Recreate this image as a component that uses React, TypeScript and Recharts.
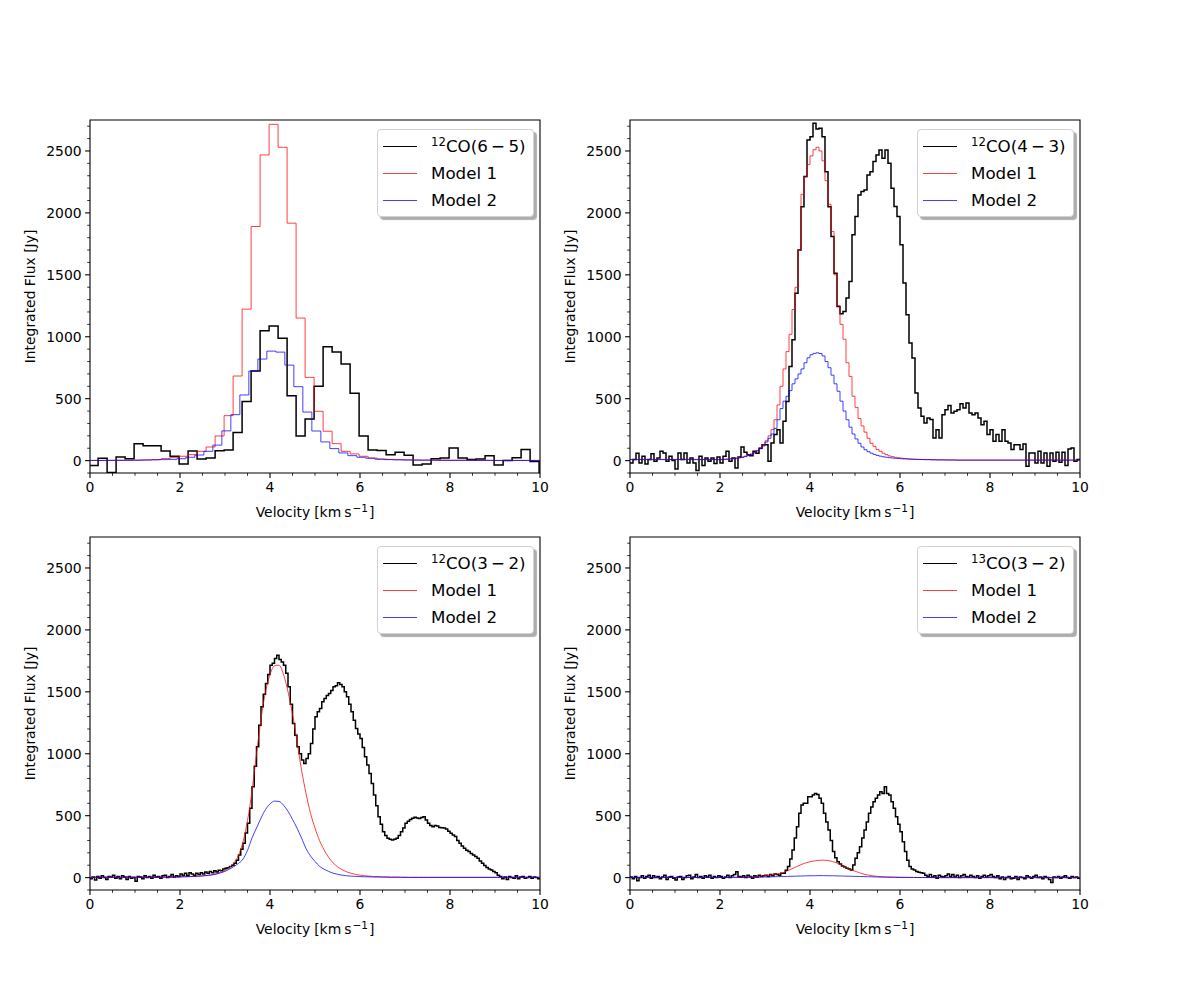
import { LineChart, Line, XAxis, YAxis, ReferenceArea } from "recharts";

const FONT = "'DejaVu Sans', sans-serif";

// axis limits and ticks
const V_MIN = 0;
const V_MAX = 10;
const F_MIN = -100;
const F_MAX = 2750;
const xMajor = [0, 2, 4, 6, 8, 10];
const xMinor = [0.5, 1, 1.5, 2.5, 3, 3.5, 4.5, 5, 5.5, 6.5, 7, 7.5, 8.5, 9, 9.5];
const yMajor = [0, 500, 1000, 1500, 2000, 2500];
const yMinor = [
  -100, 100, 200, 300, 400, 600, 700, 800, 900, 1100, 1200, 1300, 1400, 1600,
  1700, 1800, 1900, 2100, 2200, 2300, 2400, 2600, 2700,
];

// 12CO(6-5): 0.2 km/s channels
const co65Start = -0.02;
const co65Width = 0.2;
const co65Obs = [
  -40, 20, -95, 30, 16, 137, 121, 121, 78, 35,
  -27, 78, 13, 21, 80, 86, 226, 478, 723, 1048,
  1086, 987, 524, 199, 336, 600, 919, 876, 780, 543,
  199, 86, 81, 48, 67, 43, -35, -27, 16, 21,
  102, 21, 8, 13, 40, -35, 0, 24, 89, -8,
  -110,
];
const co65Mod1 = [
  1, 1, 2, 2, 3, 3, 5, 8, 16, 24,
  35, 48, 75, 110, 199, 363, 683, 1223, 1890, 2468,
  2715, 2530, 1917, 1151, 672, 398, 237, 137, 75, 54,
  35, 21, 13, 10, 8, 6, 5, 5, 4, 4,
  3, 3, 3, 2, 2, 2, 2, 2, 2, 2,
  2,
];
const co65Mod2Start = -0.07;
const co65Mod2 = [
  2, 2, 2, 3, 3, 4, 5, 6, 8, 10,
  15, 27, 45, 75, 125, 240, 371, 530, 723, 820,
  884, 876, 771, 597, 392, 239, 151, 97, 62, 40,
  27, 19, 11, 8, 6, 5, 4, 3, 3, 2,
  2, 2, 2, 2, 2, 1, 1, 1, 1, 1,
  1,
];

// 12CO(4-3): 1/15 km/s channels
const co43Start = 0;
const co43Width = 1 / 15;
const co43Obs = [
  -20, 8, 60, -20, 35, -27, 8, 56, -5, 21,
  75, 62, -5, 35, 0, -67, 62, 8, 62, -19,
  21, -19, -80, 35, -40, 21, -5, 21, -24, 30,
  -19, 35, 75, -5, 21, -59, 30, 110, 67, 48,
  40, 75, 60, 100, 129, 129, -5, 142, 210, 250,
  142, 317, 478, 760, 975, 1352, 1700, 2050, 2293, 2589,
  2615, 2723, 2677, 2683, 2615, 2333, 2050, 1809, 1513, 1245,
  1185, 1204, 1312, 1446, 1823, 1970, 2145, 2172, 2185, 2306,
  2333, 2414, 2468, 2508, 2441, 2508, 2400, 2199, 2051, 1970,
  1742, 1433, 1177, 949, 828, 546, 425, 358, 304, 344,
  331, 183, 250, 183, 371, 411, 444, 384, 398, 411,
  460, 425, 465, 384, 371, 384, 344, 290, 317, 210,
  250, 156, 210, 156, 250, 156, 142, 89, 129, 129,
  89, 134, -46, 62, 62, -19, 75, -19, 62, -46,
  62, -5, 67, -13, 67, -40, 94, 102, -5, 8,
];
const co43ModStart = 2;
const co43Mod1 = [
  10, 12, 13, 15, 18, 21, 25, 30, 36, 44, 54, 66, 82, 102, 128, 160, 200,
  250, 330, 450, 600, 740, 880, 1020, 1220, 1400, 1700, 2150, 2290, 2390, 2460, 2510, 2530, 2500,
  2420, 2260, 2070, 1850, 1500, 1250, 1100, 980, 790, 680, 520, 430, 340, 280, 230, 180, 140,
  115, 90, 75, 60, 48, 38, 32, 27, 23, 20, 17, 15, 13, 12, 11, 10, 9,
  8, 8, 7, 7, 6, 6, 6, 5, 5, 5, 5, 4, 4, 4, 4,
];
const co43Mod2 = [
  8, 9, 11, 13, 15, 18, 22, 26, 32, 40, 50, 62, 78, 96, 118, 150, 180,
  215, 260, 330, 420, 480, 520, 565, 620, 660, 700, 740, 790, 830, 855, 866, 870, 865,
  845, 800, 750, 690, 620, 560, 480, 400, 330, 270, 215, 175, 140, 110, 88, 72, 60,
  50, 42, 36, 31, 27, 24, 21, 19, 17, 15, 14, 13, 12, 11, 10, 9, 9,
  8, 8, 7, 7, 6, 6, 6, 5, 5, 5, 5, 4, 4, 4, 4,
];

// 12CO(3-2): 0.05 km/s channels, models sampled every 0.1 km/s
const co32Start = 0;
const co32Width = 0.05;
const co32Obs = [
  -10, 5, -20, 10, -5, 15, 0, -15, 10, 5,
  20, -5, 10, -10, 15, 5, -15, 10, -5, 0,
  -30, 10, 5, -10, 15, 0, 10, -5, 20, 5,
  10, -5, 15, 20, 0, 10, 25, 5, 15, 10,
  30, 20, 35, 15, 40, 30, 20, 35, 25, 40,
  30, 45, 35, 50, 40, 55, 45, 60, 55, 70,
  75, 80, 90, 100, 115, 140, 183, 230, 277, 360,
  438, 560, 734, 900, 1056, 1230, 1379, 1480, 1567, 1640,
  1715, 1730, 1769, 1796, 1760, 1740, 1715, 1650, 1540, 1400,
  1245, 1150, 1056, 1000, 949, 922, 962, 1000, 1083, 1200,
  1298, 1340, 1366, 1420, 1446, 1470, 1487, 1510, 1540, 1550,
  1573, 1560, 1540, 1500, 1460, 1400, 1339, 1270, 1204, 1160,
  1124, 1050, 976, 910, 841, 760, 667, 580, 492, 430,
  371, 340, 317, 310, 304, 310, 317, 340, 371, 400,
  438, 455, 470, 480, 487, 482, 478, 485, 492, 465,
  438, 420, 411, 420, 417, 405, 403, 400, 392, 375,
  358, 345, 331, 300, 277, 255, 237, 220, 210, 195,
  183, 170, 156, 135, 116, 98, 81, 70, 62, 50,
  40, 20, 8, -10, 5, -15, 10, 0, -5, 15,
  -10, 5, 10, -5, 0, 10, -5, 5, 0, -10,
];
const co32ModStart = 1.5;
const co32ModStep = 0.1;
const co32Mod1 = [
  3, 3, 4, 4, 5, 6, 7, 8, 10, 12,
  14, 18, 23, 30, 42, 58, 82, 120, 180, 290,
  460, 700, 1000, 1280, 1500, 1640, 1710, 1715, 1640, 1500,
  1320, 1100, 870, 680, 520, 400, 300, 225, 165, 120,
  88, 64, 47, 35, 26, 20, 15, 12, 9, 7,
  6, 5, 4, 4, 3, 3, 2, 2, 2, 2, 2,
];
const co32Mod2 = [
  3, 3, 4, 4, 5, 6, 7, 8, 9, 11,
  14, 17, 21, 28, 38, 50, 68, 90, 115, 150,
  220, 320, 400, 480, 550, 595, 618, 615, 585, 535,
  470, 400, 320, 235, 175, 130, 92, 68, 50, 36,
  27, 20, 15, 12, 10, 8, 7, 6, 5, 5,
  4, 4, 3, 3, 3, 2, 2, 2, 2, 2, 2,
];

// 13CO(3-2)
const c13Start = 0;
const c13Width = 0.05;
const c13Obs = [
  5, -10, 10, -25, 0, 15, -5, 10, 20, -5,
  15, 0, 10, -10, 5, 20, -15, 5, 10, -5,
  -20, 5, 10, -15, 0, 15, 20, -10, 5, 25,
  0, 10, -5, 15, 5, 20, -5, 10, 0, 15,
  10, -5, 5, 20, 0, 15, 25, 48, 10, 5,
  15, 0, 20, 10, -5, 15, 5, 20, 10, 15,
  20, 10, 25, 15, 30, 25, 20, 35, 35, 60,
  89, 150, 223, 320, 411, 519, 586, 600, 600, 653,
  653, 667, 680, 672, 640, 600, 519, 450, 384, 300,
  210, 160, 129, 110, 94, 85, 75, 70, 62, 102,
  156, 200, 250, 320, 384, 450, 519, 570, 613, 640,
  667, 694, 680, 734, 680, 667, 613, 560, 492, 430,
  371, 290, 210, 140, 89, 70, 62, 50, 43, 40,
  35, 20, 10, 25, 5, 15, -5, 20, 10, 5,
  15, 30, 10, 25, 5, 20, 0, 15, 25, 10,
  5, 20, 10, 0, 15, -5, 10, 20, 5, 15,
  25, 10, 0, 15, -10, 5, -15, 0, 10, -10,
  -5, 10, -15, 5, 0, -10, 15, 5, -5, 10,
  20, 0, 5, -10, 10, 0, -15, -40, 5, 0,
  10, -5, 5, 15, 0, -5, 10, 0, 5, -5,
];
const c13ModStart = 2;
const c13ModStep = 0.1;
const c13Mod1 = [
  1, 1, 2, 2, 3, 3, 4, 6, 8, 11,
  15, 19, 25, 31, 40, 55, 72, 88, 105, 118,
  128, 135, 140, 141, 138, 130, 118, 100, 80, 65,
  52, 39, 28, 20, 14, 10, 7, 5, 4, 3,
  2, 2, 1, 1, 1, 1, 0, 0, 0, 0, 0,
];
const c13Mod2 = [
  1, 1, 1, 2, 2, 2, 3, 3, 4, 4,
  5, 6, 7, 8, 9, 10, 11, 12, 13, 14,
  15, 15, 16, 16, 15, 15, 14, 13, 12, 11,
  10, 9, 8, 7, 6, 5, 4, 4, 3, 3,
  2, 2, 2, 1, 1, 1, 1, 1, 0, 0, 0,
];

type Pt = { v: number; flux: number };

// channel values -> left bin edges, with a closing edge for the last channel
function channels(start: number, width: number, values: number[]): Pt[] {
  const pts = values.map((flux, i) => ({ v: start + i * width, flux }));
  pts.push({ v: start + values.length * width, flux: values[values.length - 1] });
  return pts;
}

// hold the first / last model value out to the velocity limits
function spanAxis(pts: Pt[]): Pt[] {
  const first = pts[0];
  const last = pts[pts.length - 1];
  const out = [...pts];
  if (first.v > V_MIN) out.unshift({ v: V_MIN, flux: first.flux });
  if (last.v < V_MAX) out.push({ v: V_MAX, flux: last.flux });
  return out;
}

function sampled(start: number, step: number, values: number[]): Pt[] {
  return spanAxis(values.map((flux, i) => ({ v: start + i * step, flux })));
}

// layout inside each chart
const Y_AXIS_W = 60;
const X_AXIS_H = 57;
const MARGIN = { top: 20, right: 10, left: 20, bottom: 0 };
const PLOT_W = 450;
const PLOT_H = 353;
const PLOT_LEFT = MARGIN.left + Y_AXIS_W;
const PLOT_BOTTOM = MARGIN.top + PLOT_H;
const CHART_W = PLOT_LEFT + PLOT_W + MARGIN.right;
const CHART_H = MARGIN.top + PLOT_H + X_AXIS_H;
const TICK_FONT = 13.9;
const OBS_WIDTH = 1.5;

function XTick(props: any) {
  const { x, payload } = props;
  const major = xMajor.includes(payload.value);
  return (
    <g>
      <line
        x1={x}
        x2={x}
        y1={PLOT_BOTTOM}
        y2={PLOT_BOTTOM + (major ? 4.9 : 2.8)}
        stroke="#000"
        strokeWidth={major ? 1.1 : 0.8}
      />
      {major && (
        <text
          x={x}
          y={PLOT_BOTTOM + 18.6}
          textAnchor="middle"
          fontFamily={FONT}
          fontSize={TICK_FONT}
          fill="#000"
        >
          {payload.value}
        </text>
      )}
    </g>
  );
}

function YTick(props: any) {
  const { y, payload } = props;
  const major = yMajor.includes(payload.value);
  return (
    <g>
      <line
        x1={PLOT_LEFT - (major ? 4.9 : 2.8)}
        x2={PLOT_LEFT}
        y1={y}
        y2={y}
        stroke="#000"
        strokeWidth={major ? 1.1 : 0.8}
      />
      {major && (
        <text
          x={PLOT_LEFT - 8.4}
          y={y + 5}
          textAnchor="end"
          fontFamily={FONT}
          fontSize={TICK_FONT}
          fill="#000"
        >
          {payload.value}
        </text>
      )}
    </g>
  );
}

function VelocityTitle() {
  return (
    <text
      x={PLOT_LEFT + PLOT_W / 2}
      y={PLOT_BOTTOM + 44}
      textAnchor="middle"
      fontFamily={FONT}
      fontSize={TICK_FONT}
      fill="#000"
    >
      Velocity
      <tspan dx={4}>[km</tspan>
      <tspan dx={3}>s</tspan>
      <tspan dx={1} dy={-5.5} fontSize={10.5}>
        −1
      </tspan>
      <tspan dx={1} dy={5.5}>]</tspan>
    </text>
  );
}

function FluxTitle() {
  const cx = PLOT_LEFT - 55;
  const cy = MARGIN.top + PLOT_H / 2;
  return (
    <text
      x={cx}
      y={cy}
      transform={`rotate(-90 ${cx} ${cy})`}
      textAnchor="middle"
      fontFamily={FONT}
      fontSize={TICK_FONT}
      fill="#000"
    >
      Integrated Flux [Jy]
    </text>
  );
}

const xTicks = [...xMajor, ...xMinor].sort((a, b) => a - b);
const yTicks = [...yMajor, ...yMinor].sort((a, b) => a - b);

interface PanelProps {
  left: number;
  top: number;
  isotope: string;
  transition: string;
  obs: Pt[];
  mod1: Pt[];
  mod2: Pt[];
  modelCurve: "stepAfter" | "monotone";
}

const LEG_FONT = 16.7;

function LegendBox({ isotope, transition }: { isotope: string; transition: string }) {
  const rows = [
    { color: "#000", width: OBS_WIDTH, label: null as string | null },
    { color: "rgba(255,0,0,0.75)", width: 1, label: "Model 1" },
    { color: "rgba(0,0,255,0.75)", width: 1, label: "Model 2" },
  ];
  return (
    <div
      style={{
        position: "absolute",
        left: PLOT_LEFT + 287,
        top: MARGIN.top + 9,
        width: 157,
        height: 88,
        boxSizing: "border-box",
        border: "1px solid #d2d2d2",
        borderRadius: 4,
        background: "#fff",
        boxShadow: "3px 3px 1px rgba(0,0,0,0.32)",
        fontFamily: FONT,
        fontSize: LEG_FONT,
        color: "#000",
      }}
    >
      {rows.map((r, i) => (
        <div
          key={i}
          style={{
            position: "absolute",
            left: 0,
            top: 3.4 + i * 26.65,
            height: 26.65,
            display: "flex",
            alignItems: "center",
            whiteSpace: "nowrap",
          }}
        >
          <div style={{ marginLeft: 5, width: 34, height: r.width, background: r.color }} />
          <div style={{ marginLeft: 14, lineHeight: 1 }}>
            {r.label ?? (
              <>
                <span style={{ fontSize: 11.7, position: "relative", top: -6 }}>{isotope}</span>
                {`CO(${transition})`}
              </>
            )}
          </div>
        </div>
      ))}
    </div>
  );
}

function Panel(p: PanelProps) {
  return (
    <div
      style={{
        position: "absolute",
        left: p.left - PLOT_LEFT,
        top: p.top - MARGIN.top,
        width: CHART_W,
        height: CHART_H,
      }}
    >
      <LineChart width={CHART_W} height={CHART_H} margin={MARGIN}>
        <XAxis
          type="number"
          dataKey="v"
          domain={[V_MIN, V_MAX]}
          allowDataOverflow
          ticks={xTicks}
          interval={0}
          tick={<XTick />}
          tickLine={false}
          axisLine={false}
          height={X_AXIS_H}
          label={<VelocityTitle />}
        />
        <YAxis
          type="number"
          domain={[F_MIN, F_MAX]}
          allowDataOverflow
          ticks={yTicks}
          interval={0}
          tick={<YTick />}
          tickLine={false}
          axisLine={false}
          width={Y_AXIS_W}
          label={<FluxTitle />}
        />
        <ReferenceArea
          x1={V_MIN}
          x2={V_MAX}
          y1={F_MIN}
          y2={F_MAX}
          fill="none"
          stroke="#000"
          strokeWidth={1.1}
        />
        <Line
          data={p.obs}
          dataKey="flux"
          type="stepAfter"
          stroke="#000"
          strokeWidth={OBS_WIDTH}
          dot={false}
          isAnimationActive={false}
        />
        <Line
          data={p.mod1}
          dataKey="flux"
          type={p.modelCurve}
          stroke="red"
          strokeOpacity={0.75}
          strokeWidth={1}
          dot={false}
          isAnimationActive={false}
        />
        <Line
          data={p.mod2}
          dataKey="flux"
          type={p.modelCurve}
          stroke="blue"
          strokeOpacity={0.75}
          strokeWidth={1}
          dot={false}
          isAnimationActive={false}
        />
      </LineChart>
      <LegendBox isotope={p.isotope} transition={p.transition} />
    </div>
  );
}

const panels: PanelProps[] = [
  {
    left: 90,
    top: 120,
    isotope: "12",
    transition: "6\u2009−\u20095",
    obs: channels(co65Start, co65Width, co65Obs),
    mod1: channels(co65Start, co65Width, co65Mod1),
    mod2: channels(co65Mod2Start, co65Width, co65Mod2),
    modelCurve: "stepAfter",
  },
  {
    left: 630,
    top: 120,
    isotope: "12",
    transition: "4\u2009−\u20093",
    obs: channels(co43Start, co43Width, co43Obs),
    mod1: spanAxis(channels(co43ModStart, co43Width, co43Mod1)),
    mod2: spanAxis(channels(co43ModStart, co43Width, co43Mod2)),
    modelCurve: "stepAfter",
  },
  {
    left: 90,
    top: 537,
    isotope: "12",
    transition: "3\u2009−\u20092",
    obs: channels(co32Start, co32Width, co32Obs),
    mod1: sampled(co32ModStart, co32ModStep, co32Mod1),
    mod2: sampled(co32ModStart, co32ModStep, co32Mod2),
    modelCurve: "monotone",
  },
  {
    left: 630,
    top: 537,
    isotope: "13",
    transition: "3\u2009−\u20092",
    obs: channels(c13Start, c13Width, c13Obs),
    mod1: sampled(c13ModStart, c13ModStep, c13Mod1),
    mod2: sampled(c13ModStart, c13ModStep, c13Mod2),
    modelCurve: "monotone",
  },
];

export default function App() {
  return (
    <div
      style={{
        position: "absolute",
        left: 0,
        top: 0,
        width: 1200,
        height: 1000,
        background: "#fff",
        overflow: "hidden",
      }}
    >
      {panels.map((p, i) => (
        <Panel key={i} {...p} />
      ))}
    </div>
  );
}
